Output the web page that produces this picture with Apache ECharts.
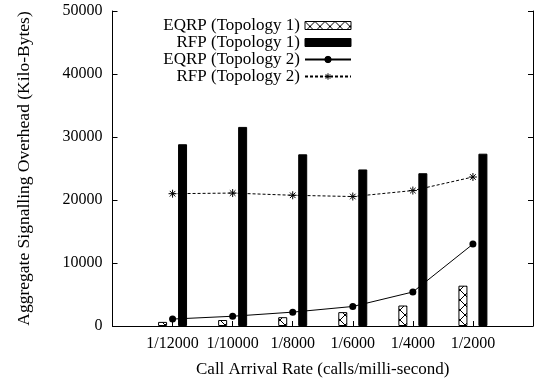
<!DOCTYPE html>
<html>
<head>
<meta charset="utf-8">
<script src="https://cdn.jsdelivr.net/npm/echarts@6/dist/echarts.min.js"></script>
<style>
  html, body { margin: 0; padding: 0; background: #fff; }
  #chart { width: 536px; height: 383px; }
</style>
</head>
<body>
<div id="chart"></div>
<script>
// data
var categories = ['1/12000', '1/10000', '1/8000', '1/6000', '1/4000', '1/2000'];
var eqrpTopo1 = [650, 950, 1400, 2200, 3250, 6400];
var rfpTopo1 = [28850, 31600, 27250, 24850, 24250, 27350];
var eqrpTopo2 = [1100, 1550, 2200, 3100, 5400, 13000];
var rfpTopo2 = [21000, 21100, 20750, 20550, 21500, 23650];
var yTicks = [0, 10000, 20000, 30000, 40000, 50000];

var FONT = 'Liberation Serif, Times New Roman, serif';

// pad one empty slot on each side, like the gnuplot x range
function pad(arr) { return [null].concat(arr, [null]); }

// cross hatch pattern for the EQRP bars
var hatch = document.createElement('canvas');
hatch.width = 10; hatch.height = 10;
var ctx = hatch.getContext('2d');
ctx.fillStyle = '#fff';
ctx.fillRect(0, 0, 10, 10);
ctx.strokeStyle = '#000';
ctx.lineWidth = 1;
ctx.beginPath();
ctx.moveTo(0, 0); ctx.lineTo(10, 10);
ctx.moveTo(10, 0); ctx.lineTo(0, 10);
ctx.stroke();

var star = 'path://M0,5L10,5M5,0L5,10M1.5,1.5L8.5,8.5M8.5,1.5L1.5,8.5';

var chart = echarts.init(document.getElementById('chart'));
var option = {
    animation: false,
    backgroundColor: '#fff',
    textStyle: { fontFamily: FONT, color: '#000' },
    grid: { left: 112.5, right: 2.5, top: 11, bottom: 53, containLabel: false },
    legend: {
        orient: 'vertical',
        align: 'right',
        right: 184,
        top: 17,
        padding: 0,
        itemWidth: 46,
        itemHeight: 8,
        itemGap: 0,
        itemStyle: { borderColor: '#000', borderWidth: 1 },
        textStyle: { fontFamily: FONT, fontSize: 17, color: '#000', lineHeight: 17 },
        data: [
            { name: 'EQRP (Topology 1)', icon: 'rect' },
            { name: 'RFP (Topology 1)', icon: 'rect' },
            'EQRP (Topology 2)',
            'RFP (Topology 2)'
        ]
    },
    xAxis: {
        type: 'category',
        boundaryGap: false,
        data: pad(categories).map(function (c) { return c || ''; }),
        name: 'Call Arrival Rate (calls/milli-second)',
        nameLocation: 'middle',
        nameGap: 35,
        nameTextStyle: { fontFamily: FONT, fontSize: 17, color: '#000' },
        axisLine: { lineStyle: { color: '#000', width: 1 } },
        axisTick: { inside: true, length: 5, interval: 0, lineStyle: { color: '#000' } },
        axisLabel: { interval: 0, margin: 10, fontFamily: FONT, fontSize: 16, color: '#000' },
        splitLine: { show: false }
    },
    yAxis: [
        {
            type: 'value',
            min: yTicks[0],
            max: yTicks[yTicks.length - 1],
            interval: yTicks[1] - yTicks[0],
            name: 'Aggregate Signalling Overhead (Kilo-Bytes)',
            nameLocation: 'middle',
            nameGap: 79,
            nameTextStyle: { fontFamily: FONT, fontSize: 17.5, color: '#000' },
            axisLine: { show: true, lineStyle: { color: '#000', width: 1 } },
            axisTick: { show: true, inside: true, length: 5, lineStyle: { color: '#000' } },
            axisLabel: {
                margin: 10, fontFamily: FONT, fontSize: 16, color: '#000',
                formatter: function (v) { return String(v); }
            },
            splitLine: { show: false }
        },
        {
            type: 'value',
            position: 'right',
            min: yTicks[0],
            max: yTicks[yTicks.length - 1],
            interval: yTicks[1] - yTicks[0],
            axisLine: { show: true, lineStyle: { color: '#000', width: 1 } },
            axisTick: { show: true, inside: true, length: 5, lineStyle: { color: '#000' } },
            axisLabel: { show: false },
            splitLine: { show: false }
        }
    ],
    series: [
        {
            name: 'EQRP (Topology 1)',
            type: 'bar',
            data: pad(eqrpTopo1),
            barWidth: 9,
            barGap: '122%',
            itemStyle: { color: { image: hatch, repeat: 'repeat' }, borderColor: '#000', borderWidth: 1 }
        },
        {
            name: 'RFP (Topology 1)',
            type: 'bar',
            data: pad(rfpTopo1),
            barWidth: 9,
            barGap: '122%',
            itemStyle: { color: '#000', borderColor: '#000', borderWidth: 1 }
        },
        {
            name: 'EQRP (Topology 2)',
            type: 'line',
            data: pad(eqrpTopo2),
            symbol: 'circle',
            symbolSize: 7,
            lineStyle: { color: '#000', width: 1 },
            itemStyle: { color: '#000' }
        },
        {
            name: 'RFP (Topology 2)',
            type: 'line',
            data: pad(rfpTopo2),
            symbol: star,
            symbolSize: 8,
            lineStyle: { color: '#000', width: 1, type: [3, 2] },
            itemStyle: { color: '#000', borderColor: '#000', borderWidth: 1 }
        }
    ]
};
chart.setOption(option);
window.addEventListener('resize', function () {
    chart.resize();
});
</script>
</body>
</html>
